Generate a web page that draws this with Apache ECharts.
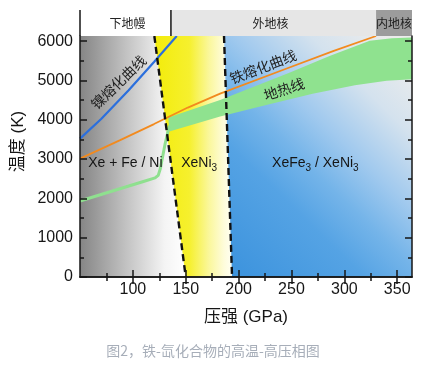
<!DOCTYPE html>
<html><head><meta charset="utf-8">
<script src="https://cdn.jsdelivr.net/npm/echarts@6/dist/echarts.min.js"></script>
<style>html,body{margin:0;padding:0;background:#fff;}#c{width:426px;height:369px;}</style>
</head><body><div id="c"></div>
<script>
// ---- data ----
const pressureRange = [50, 364];
const tempRange = [0, 6130];
const xTickValues = [100, 150, 200, 250, 300, 350];
const xMinorValues = [75, 125, 175, 225, 275, 325];
const yTickValues = [0, 1000, 2000, 3000, 4000, 5000, 6000];
const yMinorValues = [500, 1500, 2500, 3500, 4500, 5500];
const niMelting = [[50,3520],[70,4020],[96,4750],[120,5470],[141.5,6130]];
const feMelting = [[50,3010],[88,3480],[120,3890],[152,4310],[182.5,4666],[245.5,5303],[290,5750],[330,6130]];
const geothermLine = [[50,1934],[80,2180],[110,2430],[121,2520],[124,2585],[126,2760],[130.5,3390],[134.5,3850]];
const geothermUpper = [[133.5,4060],[182.5,4500],[248.6,5200],[286,5620],[324,6010],[345,6070],[364,6090]];
const geothermLower = [[134.5,3700],[182.5,4080],[230,4400],[270,4660],[310,4880],[340,4990],[364,5030]];
const boundaryLeft = [[120.3,6130],[150,0]];
const boundaryRight = [[186.2,6130],[193.8,0]];
const earthLayers = ['下地幔', '外地核', '内地核'];
const layerEdges = [50, 136, 330, 364];
const phaseLabels = ['Xe + Fe / Ni', 'XeNi{s|3}', 'XeFe{s|3} / XeNi{s|3}'];
const phaseLabelPos = [[92.9,2886],[162.7,2886],[272.6,2886]];
const curveLabels = ['镍熔化曲线', '铁熔化曲线', '地热线'];
const curveLabelPos = [[86.3,4954],[223.1,5349],[242.9,4776]];
const curveLabelAngle = [44, 21, 18];
const caption = '图2，铁-氙化合物的高温-高压相图';

// ---- styles ----
const LATIN = '"Liberation Sans", Arial, "Noto Sans CJK SC", sans-serif';
const CJK = '"Noto Sans CJK SC", sans-serif';
const INK = '#161616';
const G = echarts.graphic;

function poly(pointsFn, fill, z) {
  return {
    type: 'custom', z: z, silent: true, data: [[pressureRange[0], tempRange[0]]],
    renderItem: function (params, api) {
      return { type: 'polygon', shape: { points: pointsFn().map(p => api.coord(p)) }, style: { fill: fill } };
    }
  };
}
function line(data, color, width, z, dash) {
  return {
    type: 'line', data: data, symbol: 'none', showSymbol: false, silent: true, z: z,
    lineStyle: { color: color, width: width, type: dash || 'solid', cap: 'butt' }
  };
}
function axisBase(extra) {
  return Object.assign({
    type: 'value', min: pressureRange[0], max: pressureRange[1], z: 10,
    splitLine: { show: false }, axisLabel: { show: false }
  }, extra);
}
const lineSt = { color: INK, width: 1.5 };
const plain = v => String(v);

const xAxes = [
  axisBase({ position: 'bottom', interval: 50,
    axisLine: { show: true, lineStyle: lineSt },
    axisTick: { show: true, inside: true, length: 7, lineStyle: lineSt, customValues: xTickValues },
    axisLabel: { show: true, customValues: xTickValues, formatter: plain, margin: 5, fontFamily: LATIN, fontSize: 16, color: INK },
    name: '压强 (GPa)', nameLocation: 'middle', nameGap: 32,
    nameTextStyle: { fontFamily: LATIN, fontSize: 17, color: INK } }),
  axisBase({ position: 'bottom', axisLine: { show: false },
    axisTick: { show: true, inside: true, length: 4, lineStyle: lineSt, customValues: xMinorValues } }),
  axisBase({ position: 'top', axisLine: { show: true, lineStyle: lineSt },
    axisTick: { show: true, inside: true, length: 7, lineStyle: lineSt, customValues: xTickValues } }),
  axisBase({ position: 'top', axisLine: { show: false },
    axisTick: { show: true, inside: true, length: 4, lineStyle: lineSt, customValues: xMinorValues } })
];
function yBase(extra) {
  return Object.assign({
    type: 'value', min: tempRange[0], max: tempRange[1], z: 10,
    splitLine: { show: false }, axisLabel: { show: false }
  }, extra);
}
const yAxes = [
  yBase({ position: 'left', interval: 1000,
    axisLine: { show: true, lineStyle: lineSt },
    axisTick: { show: true, inside: true, length: 7, lineStyle: lineSt, customValues: yTickValues },
    axisLabel: { show: true, customValues: yTickValues, formatter: plain, margin: 7, fontFamily: LATIN, fontSize: 16, color: INK },
    name: '温度 (K)', nameLocation: 'middle', nameGap: 45,
    nameTextStyle: { fontFamily: LATIN, fontSize: 17, color: INK, padding: [0, 0, 0, 30] } }),
  yBase({ position: 'left', axisLine: { show: false },
    axisTick: { show: true, inside: true, length: 4, lineStyle: lineSt, customValues: yMinorValues } }),
  yBase({ position: 'right', axisLine: { show: true, lineStyle: lineSt },
    axisTick: { show: true, inside: true, length: 7, lineStyle: lineSt, customValues: yTickValues } }),
  yBase({ position: 'right', axisLine: { show: false },
    axisTick: { show: true, inside: true, length: 4, lineStyle: lineSt, customValues: yMinorValues } })
];

const greyFill = new G.LinearGradient(0, 0.5, 1, 0.5, [
  { offset: 0, color: '#858585' }, { offset: 0.45, color: '#c4c4c4' },
  { offset: 0.8, color: '#f4f4f4' }, { offset: 1, color: '#ffffff' }]);
const yellowFill = new G.LinearGradient(0, 0.5, 1, 0.5, [
  { offset: 0, color: '#f3ec0a' }, { offset: 0.45, color: '#f6f02e' },
  { offset: 0.7, color: '#faf79a' }, { offset: 0.9, color: '#fefcdc' }, { offset: 1, color: '#fffff2' }]);
const blueFill = new G.LinearGradient(0, 0.9, 1, 0.1, [
  { offset: 0, color: '#3f95de' }, { offset: 0.3, color: '#55a3e4' },
  { offset: 0.45, color: '#74b4e9' }, { offset: 0.6, color: '#a0c9ee' },
  { offset: 0.8, color: '#d4e2ee' }, { offset: 1, color: '#ececec' }]);

const series = [
  poly(() => [[pressureRange[0], tempRange[0]], [pressureRange[0], tempRange[1]], boundaryLeft[0], boundaryLeft[1]], greyFill, 1),
  poly(() => [boundaryLeft[0], boundaryRight[0], boundaryRight[1], boundaryLeft[1]], yellowFill, 1),
  poly(() => [boundaryRight[0], [pressureRange[1], tempRange[1]], [pressureRange[1], tempRange[0]], boundaryRight[1]], blueFill, 1),
  poly(() => geothermUpper.concat(geothermLower.slice().reverse()), '#8fe28f', 2),
  line(geothermLine, '#8fe08f', 3, 2),
  line(feMelting, '#f28a1e', 1.8, 3),
  line(niMelting, '#2b6fdd', 2.2, 3),
  line(boundaryLeft, '#111', 2.4, 4, [7, 4]),
  line(boundaryRight, '#111', 2.4, 4, [7, 4]),
  { // earth-layer band above the plot
    type: 'custom', z: 6, silent: true,
    data: earthLayers.map((n, i) => [layerEdges[i], layerEdges[i + 1], i]),
    renderItem: function (params, api) {
      const i = api.value(2);
      const a = api.coord([api.value(0), tempRange[1]]);
      const b = api.coord([api.value(1), tempRange[1]]);
      const h = 26;
      const fills = ['#ffffff', '#e6e6e6', '#9c9c9c'];
      const children = [
        { type: 'rect', shape: { x: a[0], y: a[1] - h, width: b[0] - a[0], height: h }, style: { fill: fills[i] } },
        { type: 'text', x: (a[0] + b[0]) / 2 + (i === 0 ? 2 : (i === 1 ? -3 : 0)), y: a[1] - h / 2,
          style: { text: earthLayers[i], font: '12px ' + CJK, fill: '#222', align: 'center', verticalAlign: 'middle' } }
      ];
      if (i < 2) children.push({ type: 'line', shape: { x1: a[0], y1: a[1] - h, x2: a[0], y2: a[1] }, style: { stroke: INK, lineWidth: 1.5 } });
      return { type: 'group', children: children };
    }
  },
  { // phase labels
    type: 'custom', z: 7, silent: true,
    data: phaseLabels.map((t, i) => [phaseLabelPos[i][0], phaseLabelPos[i][1], i]),
    renderItem: function (params, api) {
      const p = api.coord([api.value(0), api.value(1)]);
      return { type: 'text', x: p[0], y: p[1], style: {
        text: phaseLabels[api.value(2)], font: '14px ' + LATIN, fill: INK, align: 'center', verticalAlign: 'middle',
        rich: { s: { fontSize: 10, fontFamily: LATIN, fill: INK, padding: [9, 0, 0, 0] } } } };
    }
  },
  { // curve labels
    type: 'custom', z: 7, silent: true,
    data: curveLabels.map((t, i) => [curveLabelPos[i][0], curveLabelPos[i][1], i]),
    renderItem: function (params, api) {
      const i = api.value(2);
      const p = api.coord([api.value(0), api.value(1)]);
      return { type: 'text', x: p[0], y: p[1], rotation: curveLabelAngle[i] * Math.PI / 180,
        style: { text: curveLabels[i], font: '14px ' + CJK, fill: '#222', align: 'center', verticalAlign: 'middle' } };
    }
  }
];

const chart = echarts.init(document.getElementById('c'), null, { renderer: 'canvas' });
chart.setOption({
  animation: false,
  backgroundColor: '#ffffff',
  grid: { left: 80, right: 14, top: 36, bottom: 92 },
  xAxis: xAxes,
  yAxis: yAxes,
  series: series,
  graphic: [{ type: 'text', left: 'center', top: 344,
    style: { text: caption, font: '14px ' + CJK, fill: '#a7aeb9' } }]
});
</script>
</body></html>
